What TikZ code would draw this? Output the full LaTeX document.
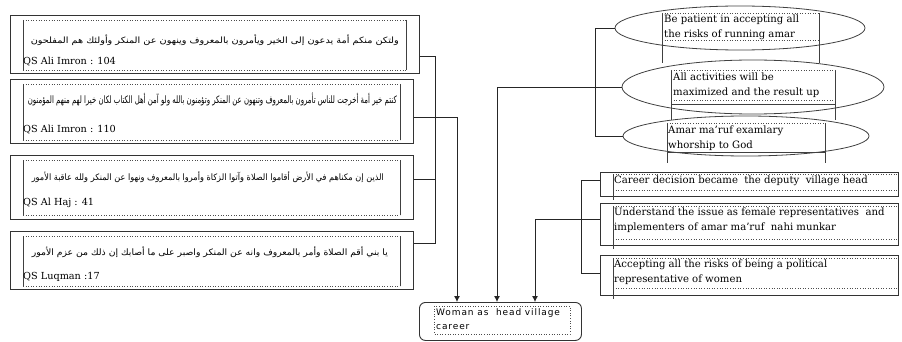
\documentclass[tikz,border=0pt]{standalone}
\usepackage{fontspec}
\setmainfont{DejaVu Serif}
\newfontfamily\arabicfont[Script=Arabic]{DejaVu Sans}
\newfontfamily\sansfnt[LetterSpace=10]{DejaVu Sans}
\TeXXeTstate=1
\usetikzlibrary{arrows.meta,shapes.geometric}
\tikzset{
  outerbox/.style={draw=black!80, line width=1.1pt, anchor=north west, inner sep=0pt},
  oval/.style={draw=black!75, line width=0.8pt, ellipse, inner sep=0pt},
  conn/.style={draw=black!85, line width=0.8pt},
  arr/.style={conn, -{Latex[length=6pt,width=6pt]}},
  dotline/.style={draw=black!70, line width=0.6pt, dotted},
  thinline/.style={draw=black!75, line width=0.6pt},
  lbl/.style={anchor=north west, inner sep=0pt, align=left, font=\fontsize{10.1}{14.5}\selectfont},
  qs/.style={anchor=west, inner sep=0pt, font=\fontsize{9.7}{11}\selectfont},
  ar/.style={anchor=east, inner sep=0pt}
}
\begin{document}
\begin{tikzpicture}[x=1pt,y=-1pt]
\useasboundingbox (0,0) rectangle (902,342);

% ---------- left verse boxes ----------
\node[outerbox, minimum width=409pt, minimum height=58pt] (q1) at (10,15) {};
\node[outerbox, minimum width=403pt, minimum height=64pt] (q2) at (10,79) {};
\node[outerbox, minimum width=403pt, minimum height=64pt] (q3) at (10,155) {};
\node[outerbox, minimum width=403pt, minimum height=58pt] (q4) at (10,231) {};

% inner frames
\draw[dotline] (23,20) -- (406,20); \draw[dotline] (23,70) -- (406,70);
\draw[thinline] (23,20) -- (23,70); \draw[thinline] (406,20) -- (406,70);
\draw[dotline] (23,84) -- (400,84); \draw[dotline] (23,140) -- (400,140);
\draw[thinline] (23,84) -- (23,140); \draw[thinline] (400,84) -- (400,140);
\draw[dotline] (23,160) -- (400,160); \draw[dotline] (23,215) -- (400,215);
\draw[thinline] (23,160) -- (23,215); \draw[thinline] (400,160) -- (400,215);
\draw[dotline] (23,236) -- (400,236); \draw[dotline] (23,286) -- (400,286);
\draw[thinline] (23,236) -- (23,286); \draw[thinline] (400,236) -- (400,286);

\node[ar] (a1) at (399,40) {\resizebox*{368pt}{11pt}{\arabicfont\beginR ولتكن منكم أمة يدعون إلى الخير ويأمرون بالمعروف وينهون عن المنكر وأولئك هم المفلحون\endR}};
\node[ar] (a2) at (397,99) {\resizebox*{369pt}{13pt}{\arabicfont\beginR كنتم خير أمة أخرجت للناس تأمرون بالمعروف وتنهون عن المنكر وتؤمنون بالله ولو آمن أهل الكتاب لكان خيرا لهم منهم المؤمنون\endR}};
\node[ar] (a3) at (384,177) {\resizebox*{352pt}{11pt}{\arabicfont\beginR الذين إن مكناهم في الأرض أقاموا الصلاة وآتوا الزكاة وأمروا بالمعروف ونهوا عن المنكر ولله عاقبة الأمور\endR}};
\node[ar] (a4) at (388,252) {\resizebox*{356pt}{11pt}{\arabicfont\beginR يا بني أقم الصلاة وأمر بالمعروف وانه عن المنكر واصبر على ما أصابك إن ذلك من عزم الأمور\endR}};

\node[qs] (l1) at (23,62) {QS Ali Imron : 104};
\node[qs] (l2) at (23,130) {QS Ali Imron : 110};
\node[qs] (l3) at (23,203) {QS Al Haj : 41};
\node[qs] (l4) at (23,277) {QS Luqman :17};

% ---------- ellipses ----------
\node[oval, minimum width=250pt, minimum height=44pt] (e1) at (740,28) {};
\node[oval, minimum width=262pt, minimum height=54pt] (e2) at (753,87) {};
\node[oval, minimum width=246pt, minimum height=40pt] (e3) at (746,136) {};

\draw[thinline] (662,13) -- (662,63); \draw[thinline] (819,13) -- (819,63);
\draw[dotline] (662,13) -- (819,13); \draw[dotline] (662,40) -- (819,40);
\node[lbl] (t1) at (664,15) {Be patient in accepting all\\the risks of running amar};

\draw[thinline] (671,70) -- (671,120); \draw[thinline] (835,70) -- (835,120);
\draw[dotline] (671,70) -- (835,70); \draw[dotline] (671,100) -- (835,100);
\draw[thinline] (671,104) -- (835,104);
\node[lbl] (t2) at (673,73) {All activities will be\\maximized and the result up};

\draw[thinline] (667,123) -- (667,163); \draw[thinline] (825,123) -- (825,163);
\draw[dotline] (667,123) -- (825,123); \draw[thinline] (667,152) -- (825,152);
\node[lbl] (t3) at (668,126) {Amar ma'ruf examlary\\whorship to God};

% ---------- right boxes ----------
\node[outerbox, minimum width=298pt, minimum height=24pt] (r1) at (600,172) {};
\node[outerbox, minimum width=298pt, minimum height=42pt] (r2) at (600,203) {};
\node[outerbox, minimum width=298pt, minimum height=40pt] (r3) at (600,255) {};

\draw[dotline] (613,174) -- (897,174); \draw[dotline] (613,190) -- (897,190);
\draw[thinline] (613,174) -- (613,200);
\draw[dotline] (613,206) -- (897,206); \draw[dotline] (613,239) -- (897,239);
\draw[thinline] (613,206) -- (613,249);
\draw[dotline] (613,258) -- (897,258); \draw[dotline] (613,288) -- (897,288);
\draw[thinline] (613,258) -- (613,299);

\node[lbl] (s1) at (614,176) {Career decision became \ the deputy \ village head};
\node[lbl] (s2) at (614,208) {Understand the issue as female representatives \ and\\implementers of amar ma'ruf \ nahi munkar};
\node[lbl] (s3) at (614,260) {Accepting all the risks of being a political\\representative of women};

% ---------- target ----------
\node[outerbox, line width=0.9pt, rounded corners=6pt, minimum width=162pt, minimum height=38pt] (t) at (419,302) {};
\draw[dotline] (434,306) rectangle (570,334);
\node[lbl, font=\sansfnt\fontsize{9}{14}\selectfont] (tt) at (436,308) {Woman as \ head village\\career};

% ---------- connectors ----------
\draw[conn] ([yshift=18pt]q1.south east) -- ++(15,0) |- ([yshift=-12pt]q4.north east);
\draw[conn] ([yshift=-24pt]q3.north east) -- ++(21,0);
\draw[arr] ([yshift=-38pt]q2.north east) -| ([xshift=38pt]t.north west);

\draw[conn] (e1.west) -- ++(-19,0) |- (e3.west);
\draw[arr] (e2.west) -| ([xshift=78pt]t.north west);

\draw[conn] ([yshift=-8pt]r1.north west) -- ++(-19,0) |- ([yshift=-18pt]r3.north west);
\draw[arr] ([yshift=-16pt]r2.north west) -| ([xshift=116pt]t.north west);
\end{tikzpicture}
\end{document}
